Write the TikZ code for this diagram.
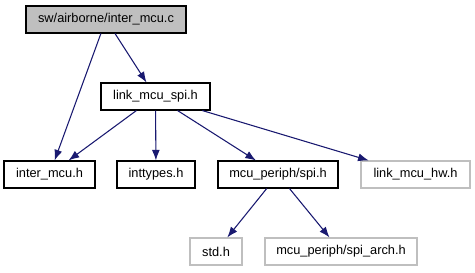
\documentclass[tikz,border=0pt]{standalone}
\usepackage{fontspec}
\setmainfont{Liberation Sans}
\usetikzlibrary{arrows.meta}
\definecolor{edgeblue}{HTML}{191970}
\definecolor{grey75}{HTML}{BFBFBF}
\begin{document}
\begin{tikzpicture}[x=0.75pt,y=-0.75pt,
  filebox/.style={draw=black,line width=0.8pt,fill=white,inner sep=0pt,
    minimum height=20.25pt,font=\fontsize{9.6}{11}\selectfont},
  rootbox/.style={filebox,fill=grey75},
  extbox/.style={filebox,draw=grey75},
  dep/.style={draw=edgeblue,line width=0.8pt,
    -{Latex[length=8pt,width=6pt,fill=edgeblue]}}]
\useasboundingbox (0,0) rectangle (475,272);
% file nodes
\node[rootbox,minimum width=120pt]   (root)  at (106,19.5)  {sw/airborne/inter\_mcu.c};
\node[filebox,minimum width=81.75pt] (link)  at (155.5,96.5) {link\_mcu\_spi.h};
\node[filebox,minimum width=68.25pt] (inter) at (49.5,174.5) {inter\_mcu.h};
\node[filebox,minimum width=58.5pt]  (intt)  at (156,174.5)  {inttypes.h};
\node[filebox,minimum width=90pt]    (spi)   at (278,174.5)  {mcu\_periph/spi.h};
\node[extbox,minimum width=81.75pt]  (hw)    at (415.5,174.5) {link\_mcu\_hw.h};
\node[extbox,minimum width=39pt]     (std)   at (216,251.5)  {std.h};
\node[extbox,minimum width=114pt]    (arch)  at (341,251.5)  {mcu\_periph/spi\_arch.h};
% include edges
\draw[dep] (root) -- (inter);
\draw[dep] (root) -- (link);
\draw[dep] (link) -- (inter);
\draw[dep] (link) -- (intt);
\draw[dep] (link) -- (spi);
\draw[dep] (link) -- (hw);
\draw[dep] (spi) -- (std);
\draw[dep] (spi) -- (arch);
\end{tikzpicture}
\end{document}
